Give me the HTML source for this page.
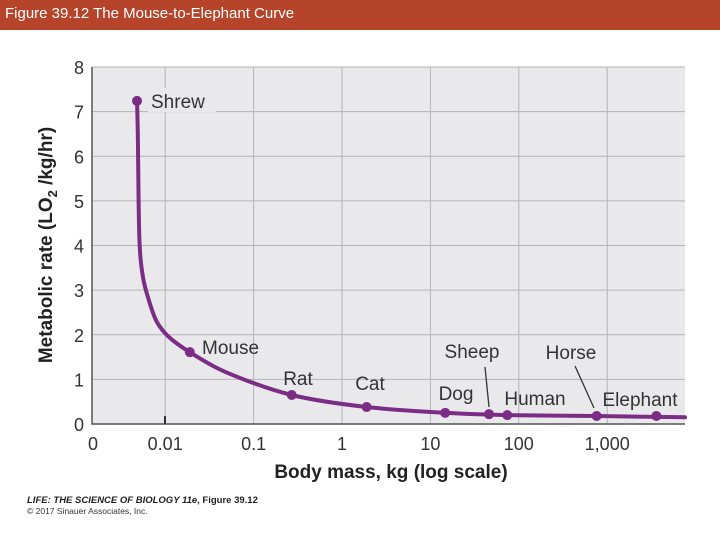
<!DOCTYPE html>
<html><head><meta charset="utf-8"><style>
html,body{margin:0;padding:0;background:#fff;width:720px;height:540px;overflow:hidden;font-family:"Liberation Sans",sans-serif}
#title{position:absolute;left:0;top:0;width:720px;height:30px;background:#b5442a;color:#fff;font-size:15px;line-height:28px;padding-left:5px;box-sizing:border-box}
</style></head><body>
<div id="title">Figure 39.12 The Mouse-to-Elephant Curve</div>
<svg id="chart" width="720" height="540" style="position:absolute;left:0;top:0"></svg>
<script>
const animals=["Shrew","Mouse","Rat","Cat","Dog","Sheep","Human","Horse","Elephant"];
const mass=[0.0048,0.019,0.27,1.9,14.7,46,74,760,3600];
const rate=[7.24,1.61,0.65,0.38,0.25,0.22,0.2,0.18,0.18];
const curveMass=[0.0048,0.0049,0.0051,0.0056,0.0066,0.008,0.011,0.019,0.05,0.27,1.9,14.7,74,760,3600,8000];
const curveRate=[7.24,6.5,4.2,3.3,2.75,2.3,1.95,1.61,1.15,0.65,0.38,0.25,0.2,0.18,0.16,0.15];
const yTicks=[0,1,2,3,4,5,6,7,8];
const xTickVals=[0.01,0.1,1,10,100,1000];
const xTickLabels=["0.01","0.1","1","10","100","1,000"];
const svg=document.getElementById('chart');const NS='http://www.w3.org/2000/svg';
const L=92,R=685,T=67,B=424;
const ys=v=>B-(B-T)*v/8;
const xs=m=>342+88.4*Math.log10(m);
function el(t,a,p){const e=document.createElementNS(NS,t);for(const k in a)e.setAttribute(k,a[k]);(p||svg).appendChild(e);return e;}
const bg=el('rect',{x:L,y:T,width:R-L,height:B-T,fill:'#e9e9ec'});


yTicks.forEach(v=>{
 const g=el('line',{x1:L,x2:R,y1:ys(v),y2:ys(v),stroke:'#b4b4b8','stroke-width':1});
 
 
 const t=el('text',{x:84,y:ys(v)+7,'text-anchor':'end','font-size':18,fill:'#333'});t.textContent=v;
 
 
});
xTickVals.forEach((v,i)=>{
 const g=el('line',{x1:xs(v),x2:xs(v),y1:T,y2:B,stroke:'#b4b4b8','stroke-width':1});
 
 
 const t=el('text',{x:xs(v),y:450,'text-anchor':'middle','font-size':18,fill:'#333'});t.textContent=xTickLabels[i];
 
 
});
const t0=el('text',{x:93,y:450,'text-anchor':'middle','font-size':18,fill:'#333'});t0.textContent='0';


const ax=el('path',{d:`M${L},${T} V${B} H${R}`,fill:'none',stroke:'#555','stroke-width':1.5});


el('line',{x1:165,x2:165,y1:B-8,y2:B,stroke:'#333','stroke-width':2});
el('rect',{x:148,y:88,width:68,height:24,fill:'#e9e9ec'});
const pts=curveMass.map((m,i)=>[Math.min(xs(m),R),ys(curveRate[i])]);
let d='M'+pts[0][0].toFixed(1)+','+pts[0][1].toFixed(1);
for(let i=0;i<pts.length-1;i++){
 const p0=pts[Math.max(i-1,0)],p1=pts[i],p2=pts[i+1],p3=pts[Math.min(i+2,pts.length-1)];
 const c1=[p1[0]+(p2[0]-p0[0])/6,p1[1]+(p2[1]-p0[1])/6],c2=[p2[0]-(p3[0]-p1[0])/6,p2[1]-(p3[1]-p1[1])/6];
 d+=`C${c1[0].toFixed(1)},${c1[1].toFixed(1)} ${c2[0].toFixed(1)},${c2[1].toFixed(1)} ${p2[0].toFixed(1)},${p2[1].toFixed(1)}`;
}
const c=el('path',{d,fill:'none',stroke:'#7b2d86','stroke-width':4,'stroke-linejoin':'round','stroke-linecap':'round'});


const lbl={Shrew:[151,7,'start'],Mouse:[202,2,'start'],Rat:[298,-10,'middle'],Cat:[370,-17,'middle'],Dog:[456,-13,'middle'],Sheep:[472,-56,'middle'],Human:[535,-10,'middle'],Horse:[571,-57,'middle'],Elephant:[640,-10,'middle']};
animals.forEach((a,i)=>{
 const x=xs(mass[i]),y=ys(rate[i]);
 const p=el('circle',{cx:x,cy:y,r:5,fill:'#7b2d86'});
 
 
 const o=lbl[a];
 const t=el('text',{x:o[0],y:y+o[1],'text-anchor':o[2],'font-size':19,fill:'#333'});t.textContent=a;
 
 
});
el('line',{x1:485,y1:367,x2:489,y2:407,stroke:'#333','stroke-width':1.3});
el('line',{x1:575,y1:366,x2:594,y2:408,stroke:'#333','stroke-width':1.3});
const xl=el('text',{x:391,y:478,'text-anchor':'middle','font-size':19,'font-weight':'bold',fill:'#222'});xl.textContent='Body mass, kg (log scale)';


const yl=el('text',{transform:'translate(52,245) rotate(-90)','text-anchor':'middle','font-size':19,'font-weight':'bold',fill:'#222'});
yl.innerHTML='Metabolic rate (LO<tspan font-size="13" dy="5">2</tspan><tspan dy="-5"> /kg/hr)</tspan>';


const f1=el('text',{x:27,y:503,'font-size':9.5,'font-weight':'bold',fill:'#222'});f1.innerHTML='<tspan font-style="italic">LIFE: THE SCIENCE OF BIOLOGY 11e</tspan>, Figure 39.12';


const f2=el('text',{x:27,y:514,'font-size':8.5,fill:'#333'});f2.textContent='© 2017 Sinauer Associates, Inc.';


</script>
</body></html>
